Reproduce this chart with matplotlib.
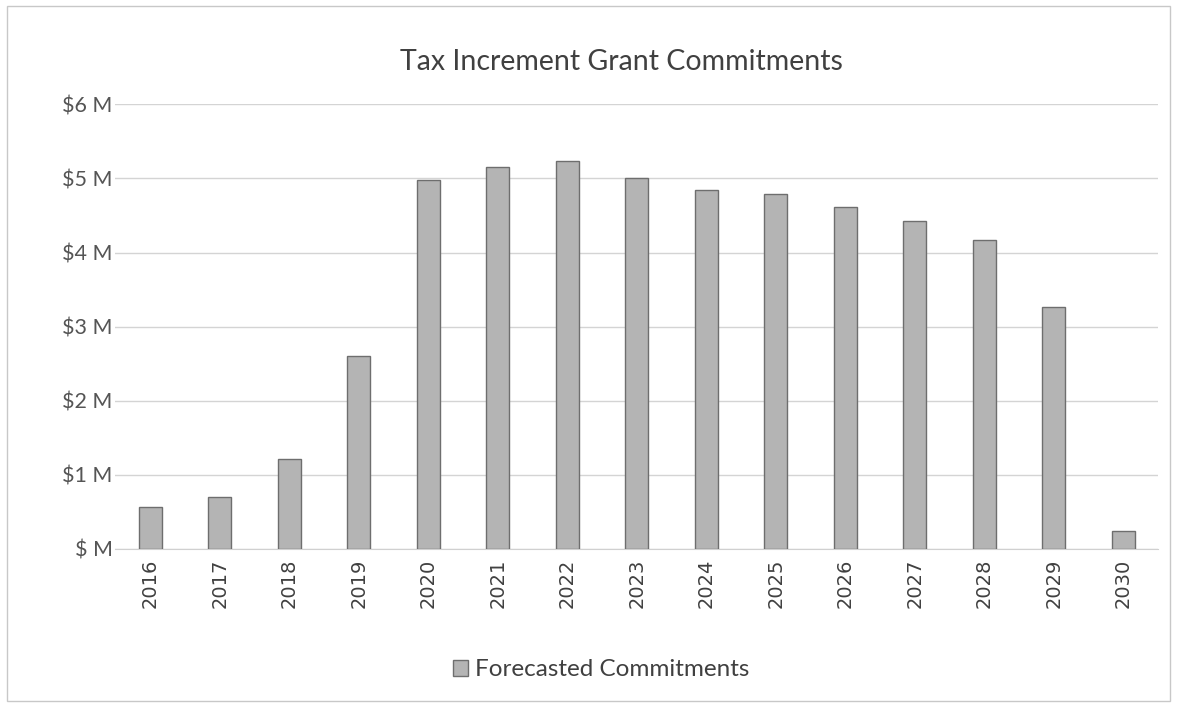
import matplotlib.pyplot as plt
from matplotlib.ticker import FuncFormatter

# Forecasted grant commitments, millions of dollars
years = ["2016", "2017", "2018", "2019", "2020", "2021", "2022", "2023",
         "2024", "2025", "2026", "2027", "2028", "2029", "2030"]
commitments = [0.57, 0.70, 1.22, 2.60, 4.98, 5.15, 5.24, 5.01,
               4.84, 4.79, 4.61, 4.43, 4.17, 3.27, 0.24]
series_name = "Forecasted Commitments"
chart_title = "Tax Increment Grant Commitments"

fig = plt.figure(figsize=(11.77, 7.07), dpi=100)
ax = fig.add_axes([0.098, 0.2235, 0.886, 0.629])

ax.bar(range(len(years)), commitments, width=0.33, color="#b4b4b4",
       edgecolor="#6e6e6e", linewidth=1.0, label=series_name, zorder=3)

ax.set_xlim(-0.5, len(years) - 0.5)
ax.set_ylim(0, 6)
ax.set_yticks(range(0, 7))
ax.yaxis.set_major_formatter(FuncFormatter(lambda v, p: f"${int(v)} M" if v else "$ M"))
ax.set_xticks(range(len(years)))
ax.set_xticklabels(years, rotation=90, fontsize=14, color="#404040", family="DejaVu Sans")
for lab in ax.get_yticklabels():
    lab.set_fontsize(15.5)
    lab.set_color("#555555")
    lab.set_family("Lato")

ax.grid(axis="y", color="#d4d4d4", linewidth=1.0, zorder=0)
for s in ["top", "right", "left"]:
    ax.spines[s].set_visible(False)
ax.spines["bottom"].set_color("#d0d0d0")
ax.tick_params(axis="y", length=0, pad=2)
ax.tick_params(axis="x", length=0, pad=7)

fig.text(0.528, 0.912, chart_title, ha="center", va="center", fontsize=20.5,
         family="Lato", color="#404040")
leg = ax.legend(loc="center", bbox_to_anchor=(0.466, -0.272), frameon=False,
                prop={"family": "Lato", "size": 17.5}, handlelength=0.6, handleheight=0.6,
                handletextpad=0.3, labelcolor="#404040")

# outer frame of the chart
fig.patches.append(plt.Rectangle((0.006, 0.008), 0.988, 0.984, transform=fig.transFigure,
                                 fill=False, edgecolor="#c8c8c8", linewidth=1.0))

fig.savefig("out.png", dpi=100)
